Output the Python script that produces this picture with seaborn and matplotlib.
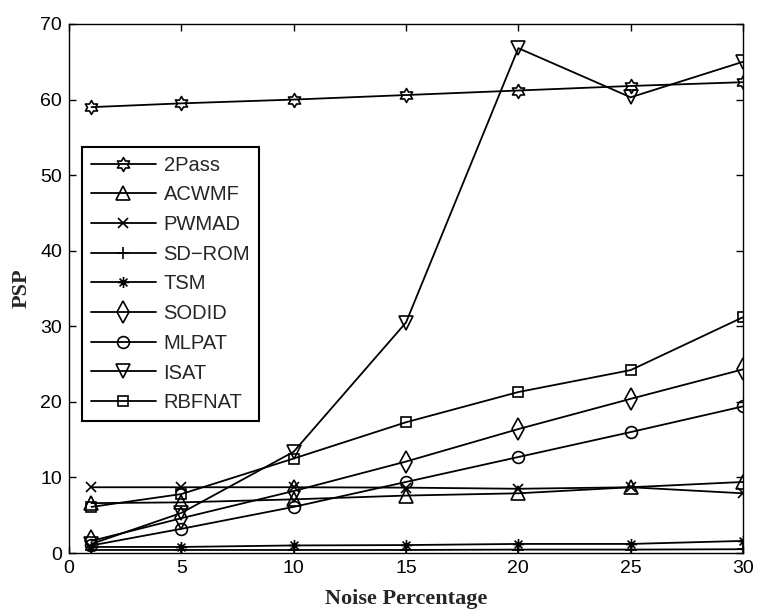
import numpy as np
import pandas as pd
import matplotlib
matplotlib.use("Agg")
import matplotlib.pyplot as plt
from matplotlib.path import Path
import seaborn as sns

noise = [1, 5, 10, 15, 20, 25, 30]
methods = ["2Pass", "ACWMF", "PWMAD", "SD\u2212ROM", "TSM", "SODID", "MLPAT", "ISAT", "RBFNAT"]
v_2pass = [59.0, 59.5, 60.0, 60.6, 61.2, 61.8, 62.3]
v_acwmf = [6.6, 6.7, 7.1, 7.6, 7.9, 8.7, 9.4]
v_pwmad = [8.7, 8.7, 8.7, 8.65, 8.5, 8.7, 7.9]
v_sdrom = [0.4, 0.4, 0.4, 0.4, 0.45, 0.45, 0.5]
v_tsm = [0.8, 0.8, 1.0, 1.05, 1.2, 1.2, 1.6]
v_sodid = [1.6, 4.6, 8.2, 12.1, 16.4, 20.4, 24.3]
v_mlpat = [1.0, 3.2, 6.1, 9.4, 12.7, 16.0, 19.4]
v_isat = [1.2, 5.3, 13.4, 30.5, 66.8, 60.3, 65.0]
v_rbfnat = [6.1, 7.8, 12.5, 17.3, 21.3, 24.2, 31.2]
values = [v_2pass, v_acwmf, v_pwmad, v_sdrom, v_tsm, v_sodid, v_mlpat, v_isat, v_rbfnat]

# hexagram marker (star of David outline)
ang = np.pi / 2 + np.arange(12) * np.pi / 6
rad = np.where(np.arange(12) % 2 == 0, 1.0, 1 / np.sqrt(3))
hexagram = Path(np.column_stack([rad * np.cos(ang), rad * np.sin(ang)]).tolist() + [[0, 1]], closed=True)
# MATLAB-style asterisk: plus and cross overlaid
d = np.sqrt(0.5)
asterisk = Path([[-1, 0], [1, 0], [0, -1], [0, 1], [-d, -d], [d, d], [-d, d], [d, -d]],
                [Path.MOVETO, Path.LINETO] * 4)

marker_style = {
    "2Pass": (hexagram, 10),
    "ACWMF": ("^", 9.5),
    "PWMAD": ("x", 6.5),
    "SD\u2212ROM": ("+", 9),
    "TSM": (asterisk, 8),
    "SODID": ("d", 11),
    "MLPAT": ("o", 8.5),
    "ISAT": ("v", 9.5),
    "RBFNAT": ("s", 7.5),
}

sns.set_style("ticks")
plt.rcParams['font.family'] = ['Liberation Sans', 'DejaVu Sans']

fig = plt.figure(figsize=(7.58, 6.10), dpi=100)
ax = fig.add_axes([69 / 758, 1 - 553 / 610, 674 / 758, 529 / 610])

for name, vals in zip(methods, values):
    df = pd.DataFrame({"Noise": noise, "PSP": vals})
    mk, ms = marker_style[name]
    sns.lineplot(data=df, x="Noise", y="PSP", ax=ax, color="black", linewidth=1.3,
                 marker=mk, markersize=ms, markerfacecolor="none",
                 markeredgecolor="black", markeredgewidth=1.2, label=name)

ax.set_xlim(0, 30)
ax.set_ylim(0, 70)
ax.set_xticks(range(0, 31, 5))
ax.set_yticks(range(0, 71, 10))
ax.tick_params(direction="in", length=5, width=1, labelsize=14, top=True, right=True,
               colors="black", pad=5)
for s in ax.spines.values():
    s.set_visible(True)
    s.set_color("black")
    s.set_linewidth(1.0)

ax.set_xlabel("Noise Percentage", fontsize=16, fontweight="bold",
              family=["Liberation Serif", "DejaVu Serif"], labelpad=9)
ax.set_ylabel("PSP", fontsize=16, fontweight="bold",
              family=["Liberation Serif", "DejaVu Serif"], labelpad=6)

leg = ax.legend(loc="upper left", bbox_to_anchor=(0.0193, 0.768), borderaxespad=0,
                fontsize=14.5, frameon=True, fancybox=False, handlelength=3.2,
                labelspacing=0.53, borderpad=0.45, handletextpad=0.4)
leg.get_frame().set_edgecolor("black")
leg.get_frame().set_linewidth(1.5)
leg.get_frame().set_alpha(1)

fig.savefig("out.png", dpi=100)
